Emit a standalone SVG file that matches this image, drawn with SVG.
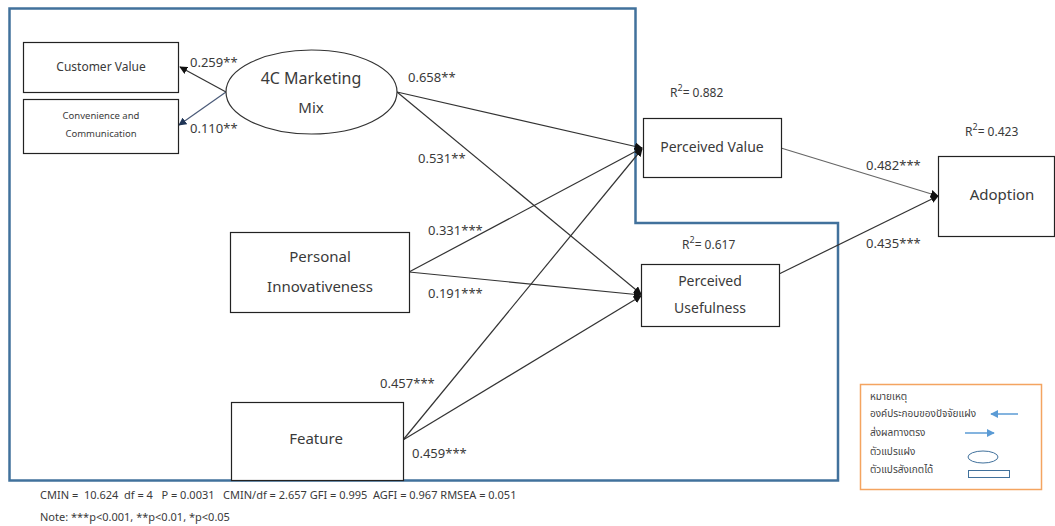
<svg xmlns="http://www.w3.org/2000/svg" width="1055" height="526" viewBox="0 0 1055 526">
<style>
text{font-family:"Noto Sans","Open Sans","DejaVu Sans",sans-serif;fill:#3a3a3a}
.box{fill:#fff;stroke:#222;stroke-width:1.2}
.ln{stroke:#333;stroke-width:1.2;fill:none}
.lbl{font-size:13px}
.sm{font-size:11px;white-space:pre}
.th{font-family:"Noto Sans Thai","Noto Sans","DejaVu Sans",sans-serif;font-size:10px;fill:#444}
</style>
<defs>
<marker id="ah" viewBox="0 0 10 10" refX="9" refY="5" markerWidth="8" markerHeight="8" markerUnits="userSpaceOnUse" orient="auto"><path d="M0,0 L10,5 L0,10 z" fill="#111"/></marker>
<marker id="ahb" viewBox="0 0 10 10" refX="9" refY="5" markerWidth="8" markerHeight="8" markerUnits="userSpaceOnUse" orient="auto"><path d="M0,0 L10,5 L0,10 z" fill="#1f3556"/></marker>
<marker id="ahl" viewBox="0 0 10 10" refX="9" refY="5" markerWidth="8" markerHeight="8" markerUnits="userSpaceOnUse" orient="auto"><path d="M0,0 L10,5 L0,10 z" fill="#5b9bd5"/></marker>
</defs>
<rect width="1055" height="526" fill="#fff"/>
<path d="M9.5,8.5 H635.5 V223 H838 V480.5 H9.5 Z" fill="none" stroke="#41719c" stroke-width="2.5"/>
<g id="connectors">
<line class="ln" x1="226" y1="92" x2="180" y2="67" marker-end="url(#ah)"/>
<line x1="226" y1="92" x2="179" y2="125" stroke="#4a5a78" stroke-width="1.2" marker-end="url(#ahb)"/>
<line class="ln" x1="397" y1="92" x2="642" y2="148" marker-end="url(#ah)"/>
<line class="ln" x1="397" y1="92" x2="641" y2="294" marker-end="url(#ah)"/>
<line class="ln" x1="409" y1="272" x2="642" y2="148" marker-end="url(#ah)"/>
<line class="ln" x1="409" y1="272" x2="641" y2="295" marker-end="url(#ah)"/>
<line class="ln" x1="403" y1="440" x2="642" y2="149" marker-end="url(#ah)"/>
<line class="ln" x1="403" y1="440" x2="641" y2="296" marker-end="url(#ah)"/>
<line x1="781" y1="148" x2="938" y2="196" stroke="#666" stroke-width="1.2" marker-end="url(#ah)"/>
<line class="ln" x1="779" y1="274" x2="938" y2="196" marker-end="url(#ah)"/>
<text class="lbl" x="190" y="67">0.259**</text>
<text class="lbl" x="190" y="133">0.110**</text>
<text class="lbl" x="408" y="82">0.658**</text>
<text class="lbl" x="418" y="163">0.531**</text>
<text class="lbl" x="428" y="235">0.331***</text>
<text class="lbl" x="428" y="298">0.191***</text>
<text class="lbl" x="380" y="388">0.457***</text>
<text class="lbl" x="412" y="458">0.459***</text>
<text class="lbl" x="866" y="170">0.482***</text>
<text class="lbl" x="866" y="248">0.435***</text>
</g>
<g id="customer-value"><rect class="box" x="23.5" y="42.5" width="155" height="50"/><text x="101" y="71" text-anchor="middle" font-size="12">Customer Value</text></g>
<g id="convenience"><rect class="box" x="23.5" y="99.5" width="155" height="54"/><text x="101" y="119" text-anchor="middle" font-size="9.5">Convenience and</text><text x="101" y="137" text-anchor="middle" font-size="9.5">Communication</text></g>
<g id="marketing-mix"><ellipse cx="311.5" cy="92" rx="85.5" ry="42" fill="#fff" stroke="#333" stroke-width="1.2"/><text x="311" y="84" text-anchor="middle" font-size="16">4C Marketing</text><text x="311" y="113" text-anchor="middle" font-size="15">Mix</text></g>
<g id="perceived-value"><rect class="box" x="643.5" y="118.5" width="138" height="59"/><text x="712" y="152" text-anchor="middle" font-size="14">Perceived Value</text><text x="670" y="97" font-size="12">R<tspan dy="-6" font-size="9">2</tspan><tspan dy="6">= 0.882</tspan></text></g>
<g id="personal-innovativeness"><rect class="box" x="230.5" y="232.5" width="179" height="80"/><text x="320" y="262" text-anchor="middle" font-size="15">Personal</text><text x="320" y="292" text-anchor="middle" font-size="15">Innovativeness</text></g>
<g id="perceived-usefulness"><rect class="box" x="641.5" y="264.5" width="138" height="62"/><text x="710" y="286" text-anchor="middle" font-size="14">Perceived</text><text x="710" y="313" text-anchor="middle" font-size="14">Usefulness</text><text x="682" y="249" font-size="12">R<tspan dy="-6" font-size="9">2</tspan><tspan dy="6">= 0.617</tspan></text></g>
<g id="feature"><rect class="box" x="231.5" y="402.5" width="172" height="78"/><text x="316" y="444" text-anchor="middle" font-size="15">Feature</text></g>
<g id="adoption"><rect class="box" x="938.5" y="156.5" width="116" height="80"/><text x="1002" y="200" text-anchor="middle" font-size="15">Adoption</text><text x="965" y="136" font-size="12">R<tspan dy="-6" font-size="9">2</tspan><tspan dy="6">= 0.423</tspan></text></g>
<g id="legend">
<rect x="860.5" y="384.5" width="181" height="105" fill="#fff" stroke="#f4a460" stroke-width="1.5"/>
<text class="th" x="870" y="400">หมายเหตุ</text>
<text class="th" x="870" y="417">องค์ประกอบของปัจจัยแฝง</text>
<text class="th" x="870" y="436">ส่งผลทางตรง</text>
<text class="th" x="870" y="455">ตัวแปรแฝง</text>
<text class="th" x="870" y="473">ตัวแปรสังเกตได้</text>
<line x1="1018" y1="414" x2="991" y2="414" stroke="#5b9bd5" stroke-width="1.5" marker-end="url(#ahl)"/>
<line x1="965" y1="433" x2="994" y2="433" stroke="#5b9bd5" stroke-width="1.5" marker-end="url(#ahl)"/>
<ellipse cx="983" cy="457" rx="15" ry="6" fill="none" stroke="#41719c" stroke-width="1"/>
<rect x="968.5" y="470.5" width="41" height="7" fill="none" stroke="#41719c" stroke-width="1"/>
</g>
<text class="sm" x="40" y="499" xml:space="preserve">CMIN =  10.624  df = 4   P = 0.0031   CMIN/df = 2.657 GFI = 0.995  AGFI = 0.967 RMSEA = 0.051</text>
<text class="sm" x="40" y="521">Note: ***p&lt;0.001, **p&lt;0.01, *p&lt;0.05</text>
</svg>
